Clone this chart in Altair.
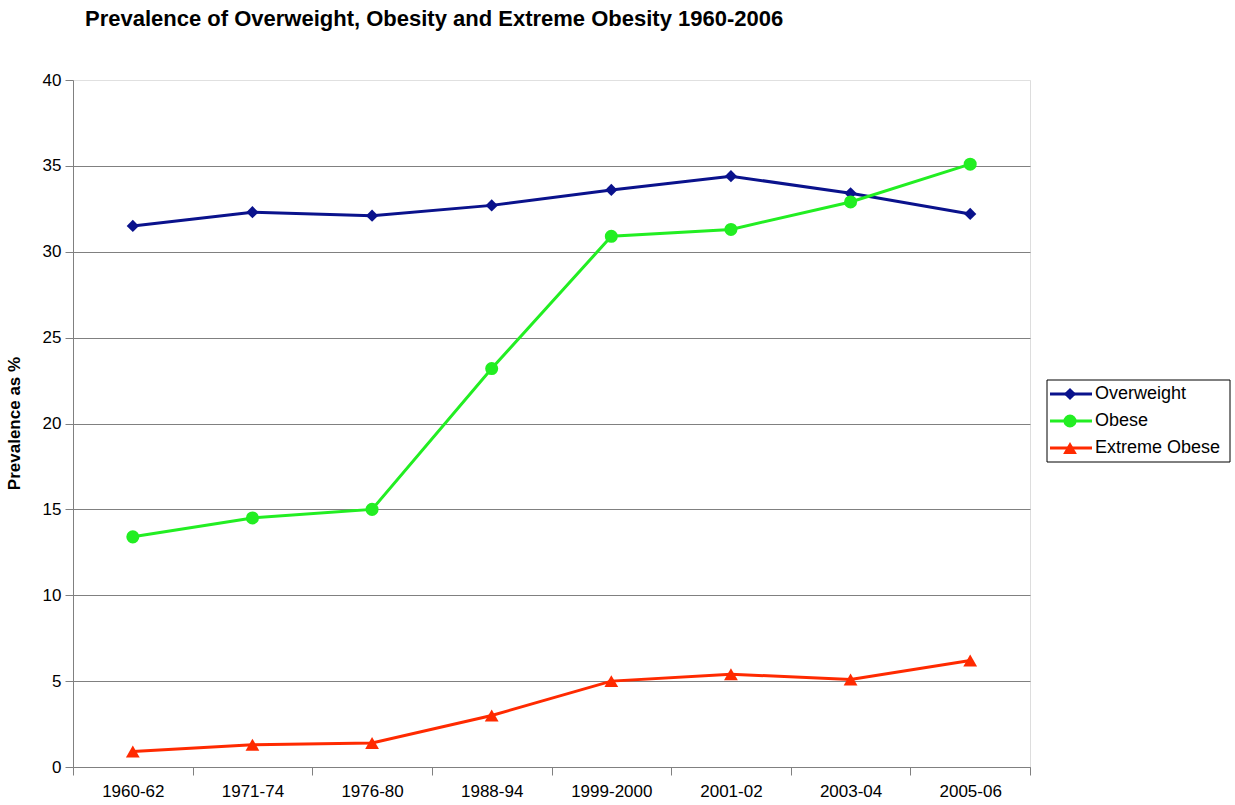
import altair as alt
import pandas as pd

periods = ["1960-62", "1971-74", "1976-80", "1988-94", "1999-2000", "2001-02", "2003-04", "2005-06"]
overweight = [31.5, 32.3, 32.1, 32.7, 33.6, 34.4, 33.4, 32.2]
obese = [13.4, 14.5, 15.0, 23.2, 30.9, 31.3, 32.9, 35.1]
extreme = [0.9, 1.3, 1.4, 3.0, 5.0, 5.4, 5.1, 6.2]
series = ["Overweight", "Obese", "Extreme Obese"]
colors = ["#0A128C", "#22EE22", "#FF2A00"]
shapes = ["diamond", "circle", "triangle-up"]
sizes = [150, 190, 190]

rows = []
for name, vals in zip(series, [overweight, obese, extreme]):
    for p, v in zip(periods, vals):
        rows.append({"period": p, "value": v, "series": name})
df = pd.DataFrame(rows)
leg = pd.DataFrame({"series": series, "idx": list(range(len(series)))})

FONT = "Liberation Sans"
color = alt.Color("series:N", scale=alt.Scale(domain=series, range=colors), legend=None)
shape = alt.Shape("series:N", scale=alt.Scale(domain=series, range=shapes), legend=None)
size = alt.Size("series:N", scale=alt.Scale(domain=series, range=sizes), legend=None)

x = alt.X("period:N", sort=periods, title=None,
          scale=alt.Scale(type="band", paddingInner=0, paddingOuter=0),
          axis=alt.Axis(labelAngle=0, tickBand="extent", labelFont=FONT, labelFontSize=17,
                        labelColor="#000", domainColor="#808080", tickColor="#808080",
                        tickSize=8, labelPadding=8, grid=False))
y = alt.Y("value:Q", title="Prevalence as %",
          scale=alt.Scale(domain=[0, 40], nice=False),
          axis=alt.Axis(values=[0, 5, 10, 15, 20, 25, 30, 35, 40], labelFont=FONT, labelFontSize=17,
                        labelColor="#000", domainColor="#808080", tickColor="#808080", tickSize=8,
                        labelPadding=4, titleFont=FONT, titleFontSize=17, titleFontWeight="bold",
                        titleColor="#000", titleX=-50, titleY=343, titleAngle=270,
                        gridColor={"condition": {"test": "datum.value == 40", "value": "#e0e0e0"},
                                   "value": "#808080"},
                        gridWidth=1))

lines = alt.Chart(df).mark_line(strokeWidth=3).encode(x=x, y=y, color=color, detail="series:N")
points = alt.Chart(df).mark_point(filled=True, opacity=1).encode(x=x, y=y, color=color, shape=shape, size=size)

ly = alt.Y("idx:Q", scale=alt.Scale(domain=[0, 2], range=[314, 368], nice=False, zero=False), axis=None)
box = alt.Chart(pd.DataFrame({"a": [0]})).mark_rect(fill="white", stroke="#000", strokeWidth=1).encode(
    x=alt.value(974), x2=alt.value(1157), y=alt.value(300), y2=alt.value(382))
leg_lines = alt.Chart(leg).mark_rule(strokeWidth=3).encode(
    x=alt.value(977), x2=alt.value(1019), y=ly, color=color)
leg_pts = alt.Chart(leg).mark_point(filled=True, opacity=1).encode(
    x=alt.value(997), y=ly, color=color, shape=shape, size=size)
leg_text = alt.Chart(leg).mark_text(align="left", baseline="middle", font=FONT, fontSize=18, color="#000").encode(
    x=alt.value(1022), y=ly, text="series:N")

title = alt.Chart(pd.DataFrame({"t": ["Prevalence of Overweight, Obesity and Extreme Obesity 1960-2006"]})).mark_text(
    align="left", baseline="middle", font=FONT, fontSize=22, fontWeight="bold", color="#000").encode(
    x=alt.value(12), y=alt.value(-61), text="t:N")

main = alt.layer(lines, points)
legend = alt.layer(box, leg_lines, leg_pts, leg_text)

chart = alt.layer(main, legend, title).resolve_scale(y="independent").properties(
    width=957, height=687,
    autosize=alt.AutoSizeParams(type="none"),
    padding={"left": 73, "top": 80, "right": 205, "bottom": 38},
).configure_view(stroke=None).configure(background="white")

chart.save("out.html", embed_options={"renderer": "svg", "actions": False})
